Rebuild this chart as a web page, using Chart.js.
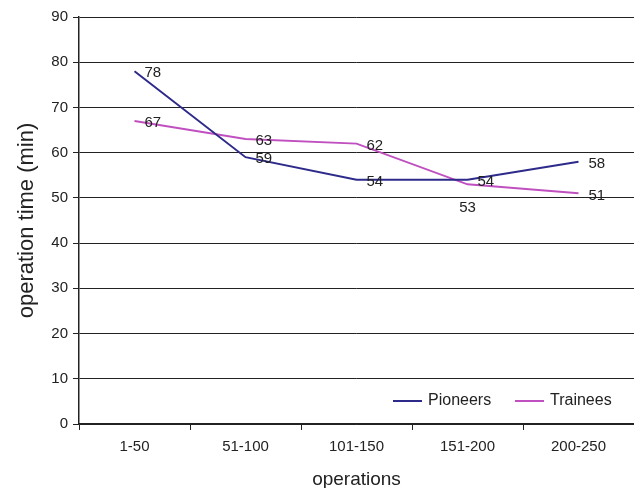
<!DOCTYPE html>
<html>
<head>
<meta charset="utf-8">
<script src="https://cdn.jsdelivr.net/npm/chart.js@4/dist/chart.umd.min.js"></script>
<style>
  html, body { margin: 0; padding: 0; background: #fff; }
  #wrap { width: 634px; height: 488px; }
</style>
</head>
<body>
<div id="wrap"><canvas id="chart"></canvas></div>
<script>
// datos del grafico
const categories = ['1-50', '51-100', '101-150', '151-200', '200-250'];
const pioneers = [78, 59, 54, 54, 58];
const trainees = [67, 63, 62, 53, 51];
const yTicks = [0, 10, 20, 30, 40, 50, 60, 70, 80, 90];

const FONT = 'Liberation Sans, Arial, sans-serif';

// etiquetas de valor junto a cada punto
const valueLabels = {
  id: 'valueLabels',
  afterDatasetsDraw(chart) {
    const ctx = chart.ctx;
    ctx.save();
    ctx.font = '15px ' + FONT;
    ctx.fillStyle = '#222';
    ctx.textBaseline = 'middle';
    chart.data.datasets.forEach((ds, i) => {
      const meta = chart.getDatasetMeta(i);
      meta.data.forEach((pt, j) => {
        // el 53 de Trainees va debajo del punto
        if (i === 1 && j === 3) {
          ctx.textAlign = 'center';
          ctx.fillText(ds.data[j], pt.x, pt.y + 24);
        } else {
          ctx.textAlign = 'left';
          ctx.fillText(ds.data[j], pt.x + 10, pt.y + 2);
        }
      });
    });
    ctx.restore();
  }
};

// leyenda dentro del area del grafico, abajo a la derecha
const innerLegend = {
  id: 'innerLegend',
  afterDraw(chart) {
    const ctx = chart.ctx;
    const y = 401;
    const items = [
      { x: 393, ds: chart.data.datasets[0] },
      { x: 515, ds: chart.data.datasets[1] }
    ];
    ctx.save();
    ctx.font = '16px ' + FONT;
    ctx.textBaseline = 'middle';
    ctx.textAlign = 'left';
    items.forEach(it => {
      ctx.strokeStyle = it.ds.borderColor;
      ctx.lineWidth = 2;
      ctx.beginPath();
      ctx.moveTo(it.x, y);
      ctx.lineTo(it.x + 29, y);
      ctx.stroke();
      ctx.fillStyle = '#222';
      ctx.fillText(it.ds.label, it.x + 35, y);
    });
    ctx.restore();
  }
};

new Chart(document.getElementById('chart'), {
  type: 'line',
  data: {
    labels: categories,
    datasets: [
      {
        label: 'Pioneers',
        data: pioneers,
        borderColor: '#2d2a8a',
        backgroundColor: '#2d2a8a',
        borderWidth: 2,
        pointRadius: 0,
        tension: 0
      },
      {
        label: 'Trainees',
        data: trainees,
        borderColor: '#c050c0',
        backgroundColor: '#c050c0',
        borderWidth: 2,
        pointRadius: 0,
        tension: 0
      }
    ]
  },
  options: {
    responsive: true,
    maintainAspectRatio: false,
    animation: false,
    layout: { padding: { top: 17, right: 0, left: 0, bottom: 0 } },
    plugins: {
      legend: { display: false },
      tooltip: { enabled: false }
    },
    scales: {
      x: {
        offset: true,
        grid: {
          offset: true,
          drawOnChartArea: false,
          color: '#222',
          tickLength: 6
        },
        border: { color: '#222', width: 1.5 },
        ticks: { color: '#222', font: { family: FONT, size: 15 }, padding: 8, maxRotation: 0 },
        title: {
          display: true,
          text: 'operations',
          color: '#222',
          font: { family: FONT, size: 19 },
          padding: { top: 0, bottom: -3 }
        },
        afterFit(scale) { scale.height = 64; }
      },
      y: {
        min: 0,
        max: 90,
        afterBuildTicks(scale) { scale.ticks = yTicks.map(v => ({ value: v })); },
        grid: { color: '#222', lineWidth: 1, tickLength: 6 },
        border: { color: '#222', width: 1.5 },
        ticks: { color: '#222', font: { family: FONT, size: 15 }, padding: 5 },
        title: {
          display: true,
          text: 'operation time (min)',
          color: '#222',
          font: { family: FONT, size: 22 },
          padding: { top: 14, bottom: 0 }
        },
        afterFit(scale) { scale.width = 79; }
      }
    }
  },
  plugins: [valueLabels, innerLegend]
});
</script>
</body>
</html>
